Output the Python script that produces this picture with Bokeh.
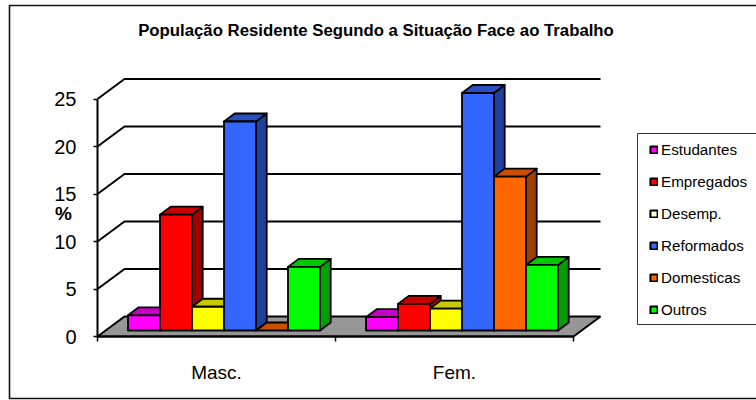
from bokeh.plotting import figure
from bokeh.embed import file_html
from bokeh.resources import INLINE
from bokeh.core.properties import value
from bokeh.models import (LinearAxis, FixedTicker, Legend, LegendItem, Range1d)

TITLE = "População Residente Segundo a Situação Face ao Trabalho"
categories = ["Masc.", "Fem."]
series = ["Estudantes", "Empregados", "Desemp.", "Reformados", "Domesticas", "Outros"]
masc = [1.6, 12.2, 2.5, 22.0, 0.0, 6.7]
fem = [1.4, 2.8, 2.3, 25.0, 16.2, 6.9]
y_ticks = [0, 5, 10, 15, 20, 25]
front_colors = ["#ff00ff", "#ff0000", "#ffff00", "#3366ff", "#ff6600", "#00ff00"]
top_colors = ["#c800c8", "#c80000", "#c8c800", "#2850c0", "#c85000", "#00c800"]
side_colors = ["#a000a0", "#a00000", "#a0a000", "#2040a0", "#a04000", "#00a000"]
legend_colors = ["#ff00ff", "#ff0000", "#ffffcc", "#3366ff", "#ff6600", "#00ff00"]

W, H = 756, 400
PX_X = 238.0      # pixels per category
PX_Y = 9.5        # pixels per percent
X0, Y0 = 97.0, 336.0   # screen position of the axes origin

def ux(px): return px / PX_X
def uy(px): return px / PX_Y

p = figure(width=W, height=H, output_backend="svg", toolbar_location=None,
           x_range=Range1d(ux(-X0), ux(W - X0)), y_range=Range1d(uy(Y0 - H), uy(Y0)),
           min_border=0, margin=(0, 0, 0, 0), x_axis_type=None, y_axis_type=None,
           outline_line_color=None, background_fill_color="white", border_fill_color="white")
p.grid.visible = False

# chart-area frame
p.quad(left=[ux(9 - X0)], right=[ux(W + 20 - X0)], bottom=[uy(Y0 - 398)], top=[uy(Y0 - 5)],
       fill_color="white", line_color="#111111", line_width=1.6)

DX, DY = ux(27), uy(20)
n_cat = len(categories)

# floor
p.patch([0, n_cat, n_cat + DX, DX], [0, 0, DY, DY], fill_color="#969696", line_color="black", line_width=2)

# gridlines on the back wall and left wall
for t in y_ticks[1:]:
    p.line([0, DX, n_cat + DX], [t, t + DY, t + DY], line_color="black", line_width=2)

# 3D bars
SLOT = ux(32)
DEPTH_X, DEPTH_Y = ux(10.7), uy(8)
BASE_Y = uy(6)
CENTER_SHIFT = ux(7.5)

for c, vals in enumerate([masc, fem]):
    start = c + 0.5 + CENTER_SHIFT - 3 * SLOT
    for i, v in enumerate(vals):
        l, r = start + i * SLOT, start + (i + 1) * SLOT
        b, t = BASE_Y, BASE_Y + v
        style = dict(line_color="black", line_width=1.8, line_join="round")
        if v > 0:
            p.patch([r, r + DEPTH_X, r + DEPTH_X, r],
                    [b, b + DEPTH_Y, t + DEPTH_Y, t], fill_color=side_colors[i], **style)
        p.patch([l, r, r + DEPTH_X, l + DEPTH_X],
                [t, t, t + DEPTH_Y, t + DEPTH_Y], fill_color=top_colors[i], **style)
        if v > 0:
            p.quad(left=[l], right=[r], bottom=[b], top=[t], fill_color=front_colors[i], **style)

# axes
y_axis = LinearAxis(fixed_location=0, ticker=FixedTicker(ticks=y_ticks), bounds=(0, 25),
                    axis_line_color="black", axis_line_width=2,
                    major_tick_line_color="black", major_tick_line_width=1.5,
                    major_tick_in=0, major_tick_out=4, minor_tick_line_color=None,
                    major_label_standoff=17, major_label_text_font="Liberation Sans",
                    major_label_text_font_size="20px", major_label_text_color="black")
p.add_layout(y_axis, "left")

x_axis = LinearAxis(fixed_location=0, ticker=FixedTicker(ticks=[0, 1, 2]), bounds=(0, 2),
                    axis_line_color="black", axis_line_width=2,
                    major_tick_line_color="black", major_tick_line_width=1.5,
                    major_tick_in=0, major_tick_out=5, minor_tick_line_color=None,
                    major_label_text_alpha=0, major_label_text_font_size="1px")
p.add_layout(x_axis, "below")

x_labels = LinearAxis(fixed_location=0, ticker=FixedTicker(ticks=[0.5, 1.5]), bounds=(0, 2),
                      axis_line_color=None, major_tick_line_color=None, minor_tick_line_color=None,
                      major_label_overrides={0.5: categories[0], 1.5: categories[1]},
                      major_label_standoff=19, major_label_text_font="Liberation Sans",
                      major_label_text_font_size="19px", major_label_text_color="black")
p.add_layout(x_labels, "below")

# texts
p.text(x=[ux(375.5 - X0)], y=[uy(Y0 - 29.5)], text=[TITLE], text_align="center", text_baseline="middle",
       text_font=value("Liberation Sans"), text_font_style="bold", text_font_size="16.75px", text_color="black")
p.text(x=[ux(63 - X0)], y=[uy(Y0 - 213)], text=["%"], text_align="center", text_baseline="middle",
       text_font=value("Liberation Sans"), text_font_style="bold", text_font_size="19px", text_color="black")

# legend box
p.quad(left=[ux(637 - X0)], right=[ux(W + 20 - X0)], bottom=[uy(Y0 - 324)], top=[uy(Y0 - 133)],
       fill_color="white", line_color="#333333", line_width=1)

# legend
nan = float("nan")
items = []
for name, col in zip(series, legend_colors):
    r = p.quad(left=[nan], right=[nan], bottom=[nan], top=[nan], fill_color=col, line_color="black", line_width=2)
    items.append(LegendItem(label=name, renderers=[r]))
legend = Legend(items=items, location=(649, H - 318), orientation="vertical",
                border_line_color=None, background_fill_alpha=0,
                glyph_width=9, glyph_height=9, label_standoff=3,
                padding=0, margin=0, spacing=15, label_height=16,
                label_text_font="Liberation Sans", label_text_font_size="15.2px", label_text_color="black")
p.add_layout(legend, "center")

open("out.html", "w").write(file_html(p, INLINE))
